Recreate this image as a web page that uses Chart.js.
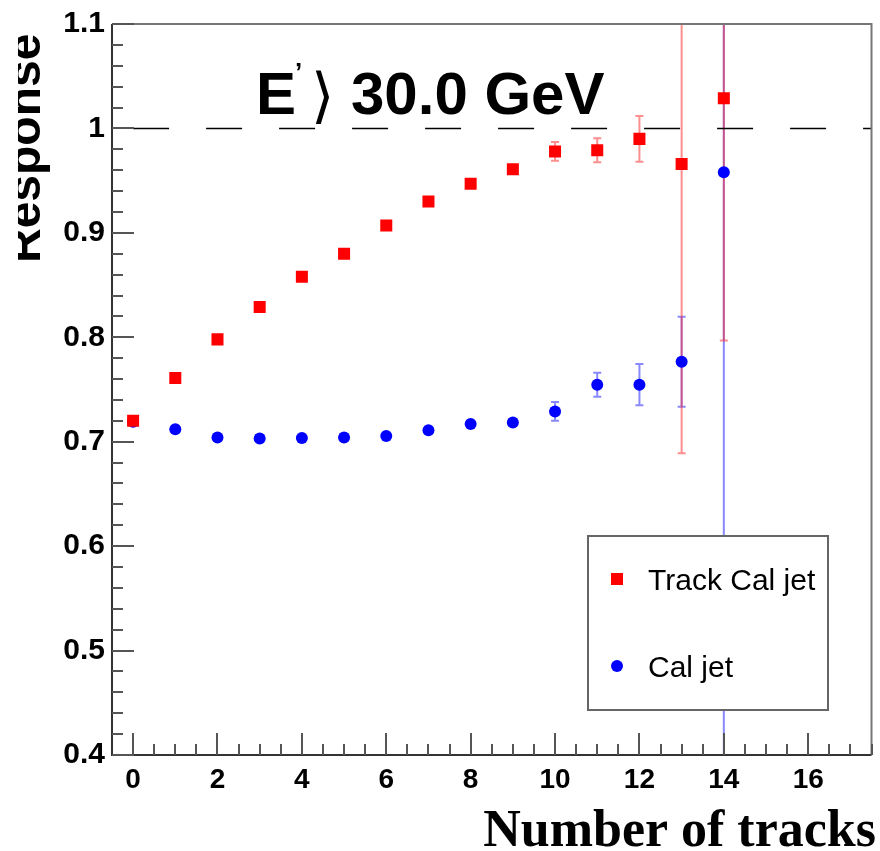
<!DOCTYPE html>
<html>
<head>
<meta charset="utf-8">
<script src="https://cdn.jsdelivr.net/npm/chart.js@4.4.1/dist/chart.umd.min.js"></script>
<style>
  html, body { margin: 0; padding: 0; background: #fff; }
  #wrap { width: 880px; height: 851px; }
</style>
</head>
<body>
<div id="wrap"><canvas id="canvas" width="880" height="851"></canvas></div>
<script>
// values
var nTracks = [0, 1, 2, 3, 4, 5, 6, 7, 8, 9, 10, 11, 12, 13, 14];
var trackCalResp = [0.720, 0.761, 0.798, 0.829, 0.858, 0.880, 0.907, 0.930, 0.947, 0.961, 0.978, 0.979, 0.990, 0.966, 1.029];
var trackCalErr = [0.002, 0.002, 0.002, 0.002, 0.002, 0.002, 0.002, 0.003, 0.003, 0.004, 0.009, 0.0115, 0.022, 0.277, 0.232];
var calResp = [0.719, 0.712, 0.704, 0.703, 0.7035, 0.704, 0.7054, 0.711, 0.717, 0.7184, 0.729, 0.7546, 0.7546, 0.7766, 0.958];
var calErr = [0.002, 0.002, 0.002, 0.002, 0.002, 0.002, 0.002, 0.002, 0.003, 0.003, 0.009, 0.0115, 0.0197, 0.043, 0.6];

var xTicks = [0, 2, 4, 6, 8, 10, 12, 14, 16];
var yTicks = [0.4, 0.5, 0.6, 0.7, 0.8, 0.9, 1.0, 1.1];
var yTickLabels = ['0.4', '0.5', '0.6', '0.7', '0.8', '0.9', '1', '1.1'];
var seriesNames = ['Track Cal jet', 'Cal jet'];
var refLine = 1.0;

var RED = 'rgb(255,0,0)';
var BLUE = 'rgb(0,0,255)';

function toPoints(xs, ys) {
  return xs.map(function(x, i) { return { x: x, y: ys[i] }; });
}

// error bars, drawn under the markers
var errorBars = {
  id: 'errorBars',
  beforeDatasetsDraw: function(chart) {
    var ctx = chart.ctx, a = chart.chartArea;
    var xs = chart.scales.x, ys = chart.scales.y;
    var sets = [
      { v: calResp, e: calErr, c: 'rgba(40,40,255,0.55)' },
      { v: trackCalResp, e: trackCalErr, c: 'rgba(255,30,30,0.5)' }
    ];
    ctx.save();
    ctx.beginPath();
    ctx.rect(a.left, a.top, a.right - a.left, a.bottom - a.top);
    ctx.clip();
    ctx.lineWidth = 2;
    sets.forEach(function(s) {
      ctx.strokeStyle = s.c;
      nTracks.forEach(function(n, i) {
        var px = xs.getPixelForValue(n);
        var lo = ys.getPixelForValue(s.v[i] - s.e[i]);
        var hi = ys.getPixelForValue(s.v[i] + s.e[i]);
        if (lo - hi < 12) return;
        ctx.beginPath();
        ctx.moveTo(px, lo);
        ctx.lineTo(px, hi);
        ctx.moveTo(px - 4, lo);
        ctx.lineTo(px + 4, lo);
        ctx.moveTo(px - 4, hi);
        ctx.lineTo(px + 4, hi);
        ctx.stroke();
      });
    });
    // dashed line at 1
    ctx.strokeStyle = '#000';
    ctx.lineWidth = 1.5;
    ctx.setLineDash([36, 37]);
    ctx.beginPath();
    var yy = Math.round(ys.getPixelForValue(refLine)) + 0.5;
    ctx.moveTo(xs.getPixelForValue(0), yy);
    ctx.lineTo(a.right, yy);
    ctx.stroke();
    ctx.restore();
  }
};

// frame, inward ticks, titles, legend
var decorations = {
  id: 'decorations',
  afterDraw: function(chart) {
    var ctx = chart.ctx, a = chart.chartArea;
    var xs = chart.scales.x, ys = chart.scales.y;
    ctx.save();

    // frame
    ctx.lineWidth = 2;
    ctx.strokeStyle = '#777';
    ctx.beginPath();
    ctx.moveTo(a.left, a.top);
    ctx.lineTo(a.right, a.top);
    ctx.lineTo(a.right, a.bottom);
    ctx.stroke();
    ctx.strokeStyle = '#333';
    ctx.beginPath();
    ctx.moveTo(a.left, a.top);
    ctx.lineTo(a.left, a.bottom);
    ctx.lineTo(a.right, a.bottom);
    ctx.stroke();

    // ticks
    ctx.strokeStyle = '#555';
    ctx.lineWidth = 2;
    ctx.beginPath();
    for (var k = 0; k <= 35; k++) {
      var yv = 0.4 + k * 0.02;
      var py = Math.round(ys.getPixelForValue(yv));
      var len = (k % 5 === 0) ? 22 : 11;
      ctx.moveTo(a.left, py);
      ctx.lineTo(a.left + len, py);
    }
    for (var j = 0; j <= 35; j++) {
      var xv = j * 0.5;
      var px = Math.round(xs.getPixelForValue(xv));
      var xl = (j % 4 === 0) ? 22 : 11;
      ctx.moveTo(px, a.bottom);
      ctx.lineTo(px, a.bottom - xl);
    }
    ctx.stroke();

    // title
    ctx.fillStyle = '#000';
    ctx.textBaseline = 'alphabetic';
    ctx.textAlign = 'left';
    ctx.font = 'bold 60px "Liberation Sans", Arial, sans-serif';
    ctx.fillText('E', 256, 114);
    ctx.fillText('30.0 GeV', 351, 114);
    ctx.font = 'bold 26px "Liberation Sans", Arial, sans-serif';
    ctx.fillText('\u2019', 295, 81);
    ctx.font = '60px "DejaVu Sans", sans-serif';
    ctx.fillText('\u27E9', 311, 116);

    // x title
    ctx.textAlign = 'right';
    ctx.font = 'bold 52px "Liberation Serif", "Times New Roman", serif';
    ctx.fillText('Number of tracks', 876, 846);

    // y title, rotated and clipped at the left edge
    ctx.save();
    ctx.beginPath();
    ctx.rect(18, 0, 100, 300);
    ctx.clip();
    ctx.translate(40, 263);
    ctx.rotate(-Math.PI / 2);
    ctx.textAlign = 'left';
    ctx.font = 'bold 48px "Liberation Sans", Arial, sans-serif';
    ctx.fillText('Response', 0, 0);
    ctx.restore();

    // legend
    var lx = 588, ly = 536, lw = 240, lh = 174;
    ctx.fillStyle = '#fff';
    ctx.fillRect(lx, ly, lw, lh);
    ctx.strokeStyle = '#666';
    ctx.lineWidth = 2;
    ctx.strokeRect(lx, ly, lw, lh);
    ctx.fillStyle = RED;
    ctx.fillRect(611, 573, 12, 12);
    ctx.fillStyle = BLUE;
    ctx.beginPath();
    ctx.arc(617, 666, 6, 0, Math.PI * 2);
    ctx.fill();
    ctx.fillStyle = '#000';
    ctx.textAlign = 'left';
    ctx.font = '30px "Liberation Sans", Arial, sans-serif';
    ctx.fillText(seriesNames[0], 648, 590);
    ctx.fillText(seriesNames[1], 648, 677);

    ctx.restore();
  }
};

Chart.defaults.font.family = '"Liberation Sans", Arial, sans-serif';
Chart.defaults.color = '#000';

new Chart(document.getElementById('canvas'), {
  type: 'scatter',
  data: {
    datasets: [{
      label: seriesNames[0],
      data: toPoints(nTracks, trackCalResp),
      pointStyle: 'rect',
      pointRadius: 8.5,
      pointHoverRadius: 8.5,
      backgroundColor: RED,
      borderColor: RED,
      borderWidth: 0
    }, {
      label: seriesNames[1],
      data: toPoints(nTracks, calResp),
      pointStyle: 'circle',
      pointRadius: 6,
      pointHoverRadius: 6,
      backgroundColor: BLUE,
      borderColor: BLUE,
      borderWidth: 0
    }]
  },
  options: {
    responsive: false,
    animation: false,
    devicePixelRatio: 1,
    layout: { padding: { top: 24, right: 5, left: 0, bottom: 0 } },
    plugins: {
      legend: { display: false },
      tooltip: { enabled: false }
    },
    scales: {
      x: {
        type: 'linear',
        min: -0.5,
        max: 17.5,
        afterBuildTicks: function(scale) {
          scale.ticks = xTicks.map(function(v) { return { value: v }; });
        },
        afterFit: function(scale) {
          scale.height = 96;
          scale.paddingLeft = 0;
          scale.paddingRight = 0;
        },
        grid: { display: false, drawTicks: false },
        border: { display: false },
        ticks: {
          padding: 8,
          font: { size: 28, weight: 'bold' },
          maxRotation: 0
        }
      },
      y: {
        type: 'linear',
        min: 0.4,
        max: 1.1,
        afterBuildTicks: function(scale) {
          scale.ticks = yTicks.map(function(v) { return { value: v }; });
        },
        afterFit: function(scale) {
          scale.width = 112;
          scale.paddingTop = 0;
          scale.paddingBottom = 0;
        },
        grid: { display: false, drawTicks: false },
        border: { display: false },
        ticks: {
          padding: 7,
          font: { size: 30, weight: 'bold' },
          callback: function(value) {
            var i = yTicks.findIndex(function(t) { return Math.abs(t - value) < 1e-6; });
            return i >= 0 ? yTickLabels[i] : '';
          }
        }
      }
    }
  },
  plugins: [errorBars, decorations]
});
</script>
</body>
</html>
